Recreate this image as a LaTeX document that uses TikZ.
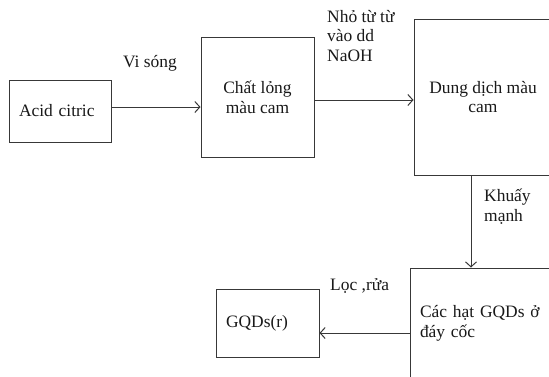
\documentclass[tikz,border=0pt]{standalone}
\usepackage{fontspec}
\setmainfont{Liberation Serif}
\usetikzlibrary{arrows.meta}
\begin{document}
\begin{tikzpicture}[x=1bp,y=-1bp,
  every node/.style={font=\fontsize{17.5}{20}\selectfont, text=black!90},
  box/.style={draw=black!78, line width=1bp, rectangle, inner sep=0pt},
  lbl/.style={inner sep=0pt, align=left, anchor=west},
  conn/.style={draw=black!78, line width=1bp, -{Straight Barb[length=5bp,width=11bp,line width=1bp]}}]
\useasboundingbox (0,0) rectangle (549,376);
\fill[white] (0,0) rectangle (549,376);
% boxes
\node[box, minimum width=101bp, minimum height=62bp, text width=83bp, align=left] (acid) at (60.5,111) {Acid citric};
\node[box, minimum width=113bp, minimum height=120bp, align=center] (chat) at (257.5,97) {Chất lỏng\\màu cam};
\node[box, minimum width=138bp, minimum height=156bp, align=center] (dung) at (483,97) {Dung dịch màu\\cam};
\node[box, minimum width=142bp, minimum height=110bp, text width=122bp, align=left] (cac) at (481,323) {Các hạt GQDs ở\\đáy cốc};
\node[box, minimum width=103bp, minimum height=68bp, text width=83bp, align=left] (gqds) at (267.5,323) {GQDs(r)};
% labels
\node[lbl] (l1) at (123,63) {Vi sóng};
\node[lbl] (l2) at (327,36) {Nhỏ từ từ\\vào dd\\NaOH};
\node[lbl] (l3) at (484,207) {Khuấy\\mạnh};
\node[lbl] (l4) at (330,286) {Lọc ,rửa};
% connectors
\draw[conn] ([yshift=4bp]acid.east) -- ([yshift=4bp]acid.east -| chat.west);
\draw[conn] ([yshift=-3bp]chat.east) -- ([yshift=-3bp]chat.east -| dung.west);
\draw[conn] ([xshift=-12bp]dung.south) -- ([xshift=-12bp]dung.south |- cac.north);
\draw[conn] ([yshift=-10bp]cac.west) -- ([yshift=-10bp]cac.west -| gqds.east);
\end{tikzpicture}
\end{document}
